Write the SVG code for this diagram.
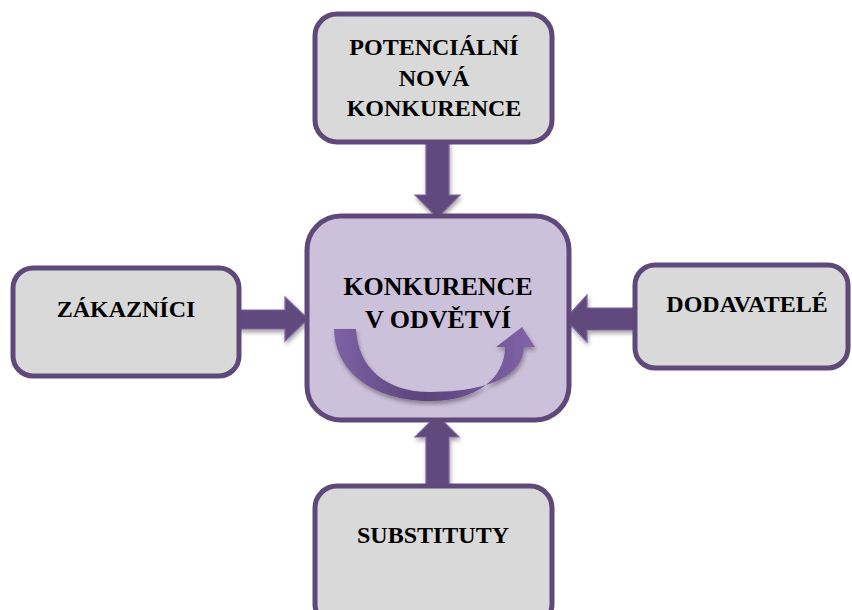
<svg xmlns="http://www.w3.org/2000/svg" width="852" height="610" viewBox="0 0 852 610">
<defs>
<style>
.box{fill:#d9d9d9;stroke:#5f497a;stroke-width:5}
.center{fill:#ccc1da;stroke:#5f497a;stroke-width:5}
.arr{fill:#604a7b;stroke:#8064a2;stroke-width:1.2;filter:url(#sh)}
.t{font-family:"Liberation Serif","Times New Roman",serif;font-weight:bold;fill:#000;text-anchor:middle}
</style>
<filter id="sh" x="-30%" y="-30%" width="160%" height="160%">
<feGaussianBlur in="SourceAlpha" stdDeviation="2"/>
<feOffset dx="1" dy="3" result="b"/>
<feComponentTransfer><feFuncA type="linear" slope="0.35"/></feComponentTransfer>
<feMerge><feMergeNode/><feMergeNode in="SourceGraphic"/></feMerge>
</filter>
<linearGradient id="cg" x1="0" y1="0" x2="1" y2="0">
<stop offset="0" stop-color="#7e62a6"/>
<stop offset="0.45" stop-color="#5a4379"/>
<stop offset="1" stop-color="#8264aa"/>
</linearGradient>
</defs>
<g id="connectors">
<path class="arr" d="M426 142 H449 V195 H460 L437.5 218 L415 195 H426 Z"/>
<path class="arr" d="M426 486 H449 V437 H459 L437 415 L415 437 H426 Z"/>
<path class="arr" d="M239 310 V329 H285 V341 L308 319 L285 297 V310 Z"/>
<path class="arr" d="M635 308 V330 H587 V342 L565 319 L587 295 V308 Z"/>
</g>
<g id="n-potencialni">
<rect class="box" x="315" y="14" width="237" height="128" rx="22"/>
<text class="t" font-size="24" x="434" y="55">POTENCIÁLNÍ</text>
<text class="t" font-size="24" x="434" y="86">NOVÁ</text>
<text class="t" font-size="24" x="434" y="116">KONKURENCE</text>
</g>
<g id="n-center">
<rect class="center" x="307" y="216" width="262" height="204" rx="34"/>
<path fill="url(#cg)" filter="url(#sh)" d="M334 329 C335 373 375 401 430 401 C477 401 505 378 505 347 H496 L522 327 L535 347 H524 C523 378 484 392 430 392 C386 392 358 368 356 329 Z"/>
<text class="t" font-size="26" x="438" y="295">KONKURENCE</text>
<text class="t" font-size="26" x="438" y="328">V ODVĚTVÍ</text>
</g>
<g id="n-zakaznici">
<rect class="box" x="13" y="268" width="226" height="108" rx="20"/>
<text class="t" font-size="24" x="126" y="317">ZÁKAZNÍCI</text>
</g>
<g id="n-dodavatele">
<rect class="box" x="635" y="265" width="213" height="103" rx="20"/>
<text class="t" font-size="24" x="747" y="312">DODAVATELÉ</text>
</g>
<g id="n-substituty">
<rect class="box" x="315" y="486" width="237" height="140" rx="22"/>
<text class="t" font-size="24" x="433" y="543">SUBSTITUTY</text>
</g>
</svg>
